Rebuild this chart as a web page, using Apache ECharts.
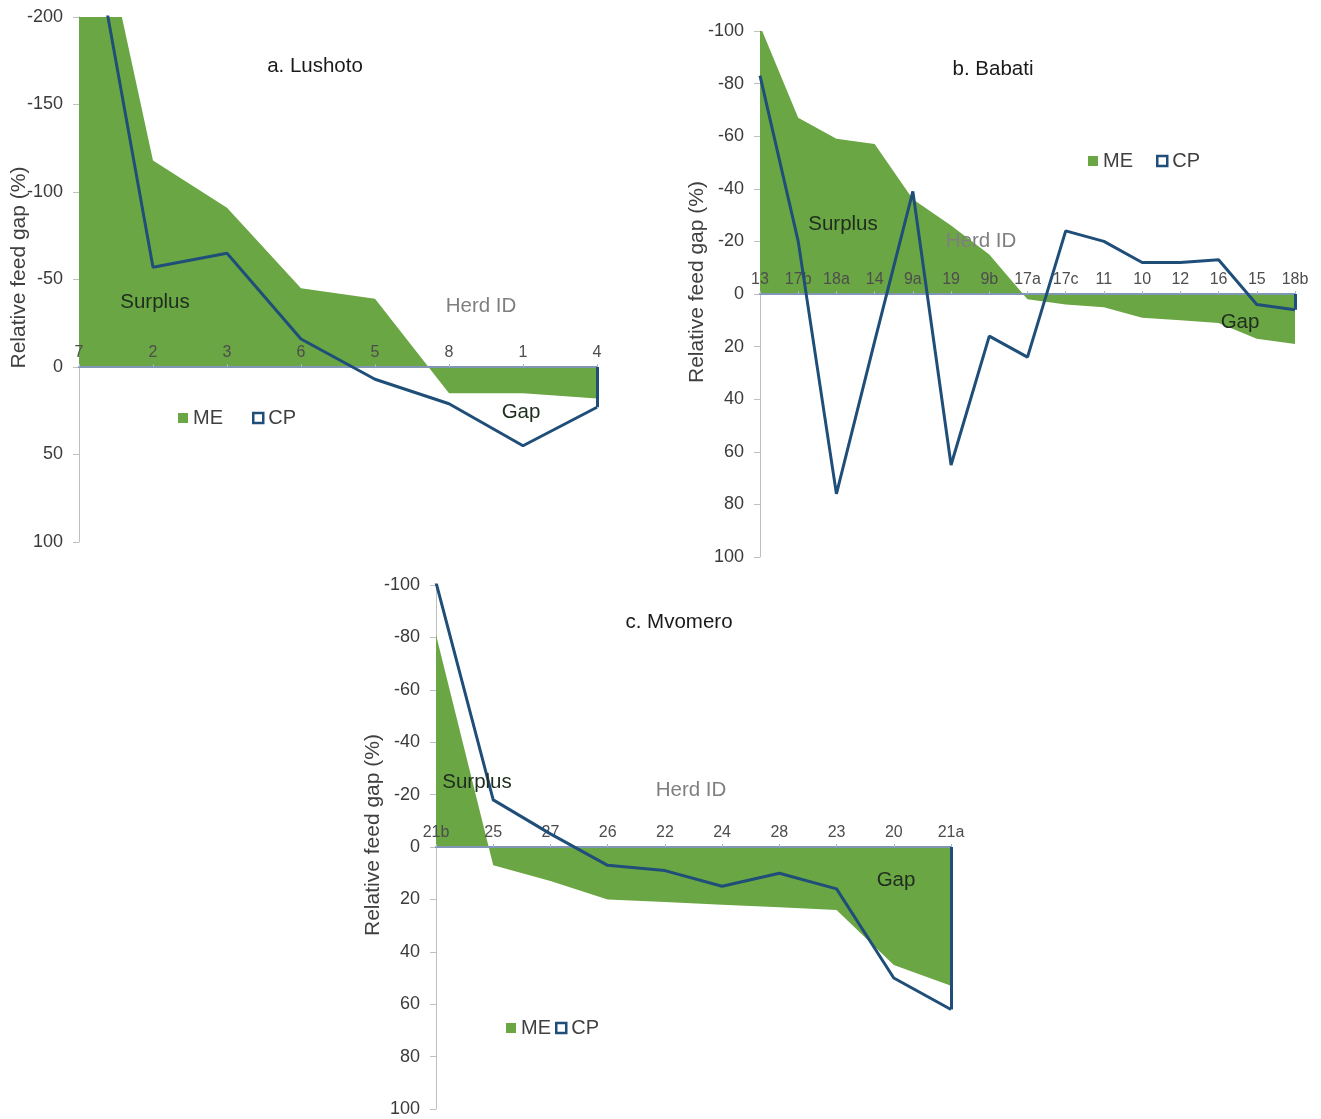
<!DOCTYPE html>
<html>
<head>
<meta charset="utf-8">
<title>Relative feed gap</title>
<script src="https://cdn.jsdelivr.net/npm/echarts@6/dist/echarts.min.js"></script>
<style>
  html, body { margin: 0; padding: 0; background: #fff; }
  #chart { width: 1321px; height: 1119px; }
</style>
</head>
<body>
<div id="chart"></div>
<script>
// herd ids (x categories) and relative gaps per site, ME = energy, CP = protein
const lushotoHerds = ['7', '2', '3', '6', '5', '8', '1', '4']
const lushotoME = [-313, -118, -91, -45, -39, 15, 15, 18]
const lushotoCP = [-292, -57, -65, -16, 7, 21, 45, 23]

const babatiHerds = ['13', '17b', '18a', '14', '9a', '19', '9b', '17a', '17c', '11', '10', '12', '16', '15', '18b']
const babatiME = [-102, -67, -59, -57, -36, -26, -15, 2, 4, 5, 9, 10, 11, 17, 19]
const babatiCP = [-83, -20, 76, 18, -39, 65, 16, 24, -24, -20, -12, -12, -13, 4, 6]

const mvomeroHerds = ['21b', '25', '27', '26', '22', '24', '28', '23', '20', '21a']
const mvomeroME = [-81, 7, 13, 20, 21, 22, 23, 24, 45, 53]
const mvomeroCP = [-101, -18, -5, 7, 9, 15, 10, 16, 50, 62]

// y axis ranges: [min, max, interval]
const lushotoRange = [-200, 100, 50]
const babatiRange = [-100, 100, 20]
const mvomeroRange = [-100, 100, 20]

const GREEN = '#6BA644'
const BLUE = '#1F4E79'
const FONT = '"Liberation Sans", Arial, sans-serif'

const panels = [
  { herds: lushotoHerds, me: lushotoME, cp: lushotoCP, range: lushotoRange,
    grid: { left: 79, top: 17, width: 518, height: 525 }, nameGap: 49 },
  { herds: babatiHerds, me: babatiME, cp: babatiCP, range: babatiRange,
    grid: { left: 760, top: 31, width: 535, height: 526 }, nameGap: 52 },
  { herds: mvomeroHerds, me: mvomeroME, cp: mvomeroCP, range: mvomeroRange,
    grid: { left: 436, top: 585, width: 515, height: 524 }, nameGap: 52 }
]

const grids = []
const xAxes = []
const yAxes = []
const series = []

panels.forEach((p, i) => {
  grids.push(p.grid)
  // the herd axis sits on the zero line with its labels above it;
  // shift a top axis down to where zero falls on the inverted y scale
  const zeroShift = p.grid.height * (0 - p.range[0]) / (p.range[1] - p.range[0])
  xAxes.push({
    type: 'category',
    gridIndex: i,
    data: p.herds,
    boundaryGap: false,
    position: 'top',
    offset: -zeroShift,
    z: 2,
    axisLine: { onZero: false, lineStyle: { color: '#7F97B5', width: 2 } },
    axisTick: { show: true, length: 3, lineStyle: { color: '#A6B6CA' } },
    axisLabel: { color: '#4D4D4D', fontSize: 16, fontFamily: FONT, margin: 6, interval: 0 },
    splitLine: { show: false }
  })
  yAxes.push({
    type: 'value',
    gridIndex: i,
    inverse: true,
    min: p.range[0],
    max: p.range[1],
    interval: p.range[2],
    name: 'Relative feed gap (%)',
    nameLocation: 'middle',
    nameGap: p.nameGap,
    nameMoveOverlap: false,
    nameTextStyle: { color: '#404040', fontSize: 21, fontFamily: FONT, padding: [0, 0, 0, 24] },
    axisLine: { show: true, lineStyle: { color: '#BFBFBF', width: 1 } },
    axisTick: { show: true, length: 6, lineStyle: { color: '#BFBFBF' } },
    axisLabel: { color: '#3A3A3A', fontSize: 18, fontFamily: FONT, margin: 16 },
    splitLine: { show: false }
  })
  series.push({
    name: 'ME',
    type: 'line',
    xAxisIndex: i,
    yAxisIndex: i,
    data: p.me,
    symbol: 'none',
    lineStyle: { width: 0 },
    itemStyle: { color: GREEN },
    areaStyle: { color: GREEN, opacity: 1 },
    z: 1
  })
  const last = p.cp.length - 1
  series.push({
    name: 'CP',
    type: 'line',
    xAxisIndex: i,
    yAxisIndex: i,
    data: p.cp,
    symbol: 'none',
    lineStyle: { color: BLUE, width: 3 },
    itemStyle: { color: BLUE },
    z: 3,
    // closing edge of the CP area down to zero at the last herd
    markLine: {
      silent: true,
      symbol: ['none', 'none'],
      label: { show: false },
      lineStyle: { color: BLUE, width: 3, type: 'solid' },
      data: [[{ coord: [last, 0] }, { coord: [last, p.cp[last]] }]]
    }
  })
})

function legendAt(left, top, gap) {
  return {
    left: left,
    top: top,
    itemGap: gap,
    itemWidth: 10,
    itemHeight: 10,
    textStyle: { color: '#404040', fontSize: 20, fontFamily: FONT },
    data: [
      { name: 'ME', icon: 'rect', itemStyle: { color: GREEN } },
      { name: 'CP', icon: 'rect', itemStyle: { color: '#fff', borderColor: BLUE, borderWidth: 2.5 } }
    ],
    selectedMode: false
  }
}

function label(text, x, y, color, size) {
  return {
    type: 'text',
    x: x,
    y: y,
    z: 100,
    style: {
      text: text,
      fill: color || '#1a1a1a',
      font: (size || 20.5) + 'px ' + FONT,
      textAlign: 'center',
      textVerticalAlign: 'middle'
    }
  }
}

const chart = echarts.init(document.getElementById('chart'))
chart.setOption({
  animation: false,
  backgroundColor: '#fff',
  grid: grids,
  xAxis: xAxes,
  yAxis: yAxes,
  legend: [legendAt(173, 403, 29), legendAt(1083, 146, 23), legendAt(501, 1013, 4)],
  graphic: [
    label('a. Lushoto', 315, 66, '#1a1a1a'),
    label('b. Babati', 993, 69, '#1a1a1a'),
    label('c. Mvomero', 679, 622, '#1a1a1a'),
    label('Surplus', 155, 302, '#1f2d1f'),
    label('Surplus', 843, 224, '#1f2d1f'),
    label('Surplus', 477, 782, '#1f2d1f'),
    label('Gap', 521, 412, '#1f2d1f'),
    label('Gap', 1240, 322, '#1f2d1f'),
    label('Gap', 896, 880, '#1f2d1f'),
    label('Herd ID', 481, 306, '#7F7F7F'),
    label('Herd ID', 981, 241, '#7F7F7F'),
    label('Herd ID', 691, 790, '#7F7F7F')
  ],
  series: series
})
</script>
</body>
</html>
